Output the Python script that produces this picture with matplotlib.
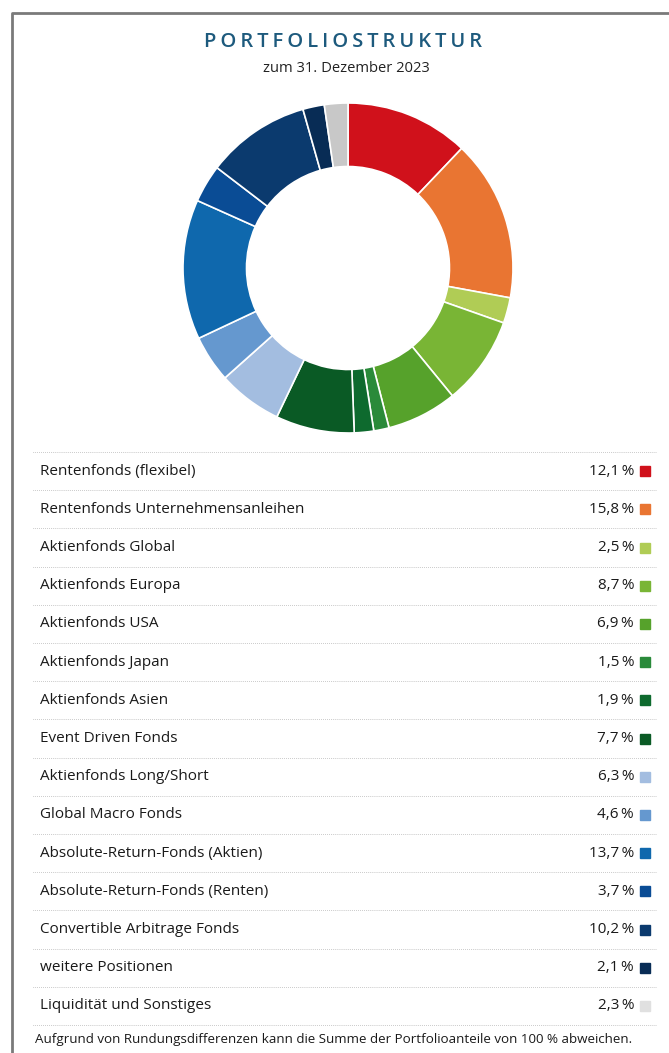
import matplotlib.pyplot as plt

plt.rcParams['font.family'] = ['Open Sans', 'DejaVu Sans']

# Daten
kategorien = ["Rentenfonds (flexibel)", "Rentenfonds Unternehmensanleihen",
              "Aktienfonds Global", "Aktienfonds Europa", "Aktienfonds USA",
              "Aktienfonds Japan", "Aktienfonds Asien", "Event Driven Fonds",
              "Aktienfonds Long/Short", "Global Macro Fonds",
              "Absolute-Return-Fonds (Aktien)", "Absolute-Return-Fonds (Renten)",
              "Convertible Arbitrage Fonds", "weitere Positionen",
              "Liquidität und Sonstiges"]
anteile = [12.1, 15.8, 2.5, 8.7, 6.9, 1.5, 1.9, 7.7, 6.3, 4.6, 13.7, 3.7, 10.2, 2.1, 2.3]
farben = ["#d0111b", "#e97532", "#b0cc55", "#79b535", "#56a22b", "#2a8a3a",
          "#0e6a2e", "#0a5a25", "#a3bde0", "#6598cf", "#0f68ad", "#0a4c95",
          "#0b3a6e", "#082c55", "#c8c8c8"]

W, H = 669, 1053
fig = plt.figure(figsize=(W / 100, H / 100), dpi=100)

# Hintergrund-Achse in Pixelkoordinaten
bg = fig.add_axes([0, 0, 1, 1])
bg.set_xlim(0, W)
bg.set_ylim(H, 0)
bg.axis('off')

# Rahmen
bg.plot([12, 12, W + 5], [H + 5, 13, 13], color='#7a7a7a', lw=2, solid_capstyle='butt')

# Titel
bg.text(343, 42, "\u2009".join("PORTFOLIOSTRUKTUR"),
        ha='center', va='center', fontsize=14.5, fontweight='semibold', color='#1d5a7d')
bg.text(346, 69, "zum 31. Dezember 2023", ha='center', va='center',
        fontsize=10.6, color='#222222')

# Donut
cx, cy, r = 348, 268, 165
pax = fig.add_axes([(cx - r) / W, (H - cy - r) / H, 2 * r / W, 2 * r / H])
pax.pie(anteile, colors=farben, startangle=90, counterclock=False, radius=1,
        wedgeprops=dict(width=0.385, edgecolor='white', linewidth=1.2))
pax.set_xlim(-1, 1)
pax.set_ylim(-1, 1)
pax.set_aspect('equal')
pax.axis('off')

# Legende / Tabelle
y0, dy = 452, 38.2
punkte = dict(color='#aaaaaa', lw=0.7, linestyle=(0, (0.6, 1.4)))
for i, (k, a, f) in enumerate(zip(kategorien, anteile, farben)):
    yl = y0 + i * dy
    bg.plot([33, 657], [yl, yl], **punkte)
    yt = yl + dy / 2
    bg.text(40, yt, k, ha='left', va='center', fontsize=11, color='#1a1a1a')
    bg.text(634, yt, f"{a:.1f}".replace('.', ',') + "\u2009%", ha='right', va='center',
            fontsize=11, color='#1a1a1a')
    sq = "#e0e0e0" if i == len(kategorien) - 1 else f
    bg.add_patch(plt.Rectangle((640, yt - 5), 10, 10, color=sq))
yl = y0 + len(kategorien) * dy
bg.plot([33, 657], [yl, yl], **punkte)

bg.text(35, 1039, "Aufgrund von Rundungsdifferenzen kann die Summe der Portfolioanteile von 100 % abweichen.",
        ha='left', va='center', fontsize=9.6, color='#1a1a1a')

fig.savefig("out.png", dpi=100, facecolor='white')
